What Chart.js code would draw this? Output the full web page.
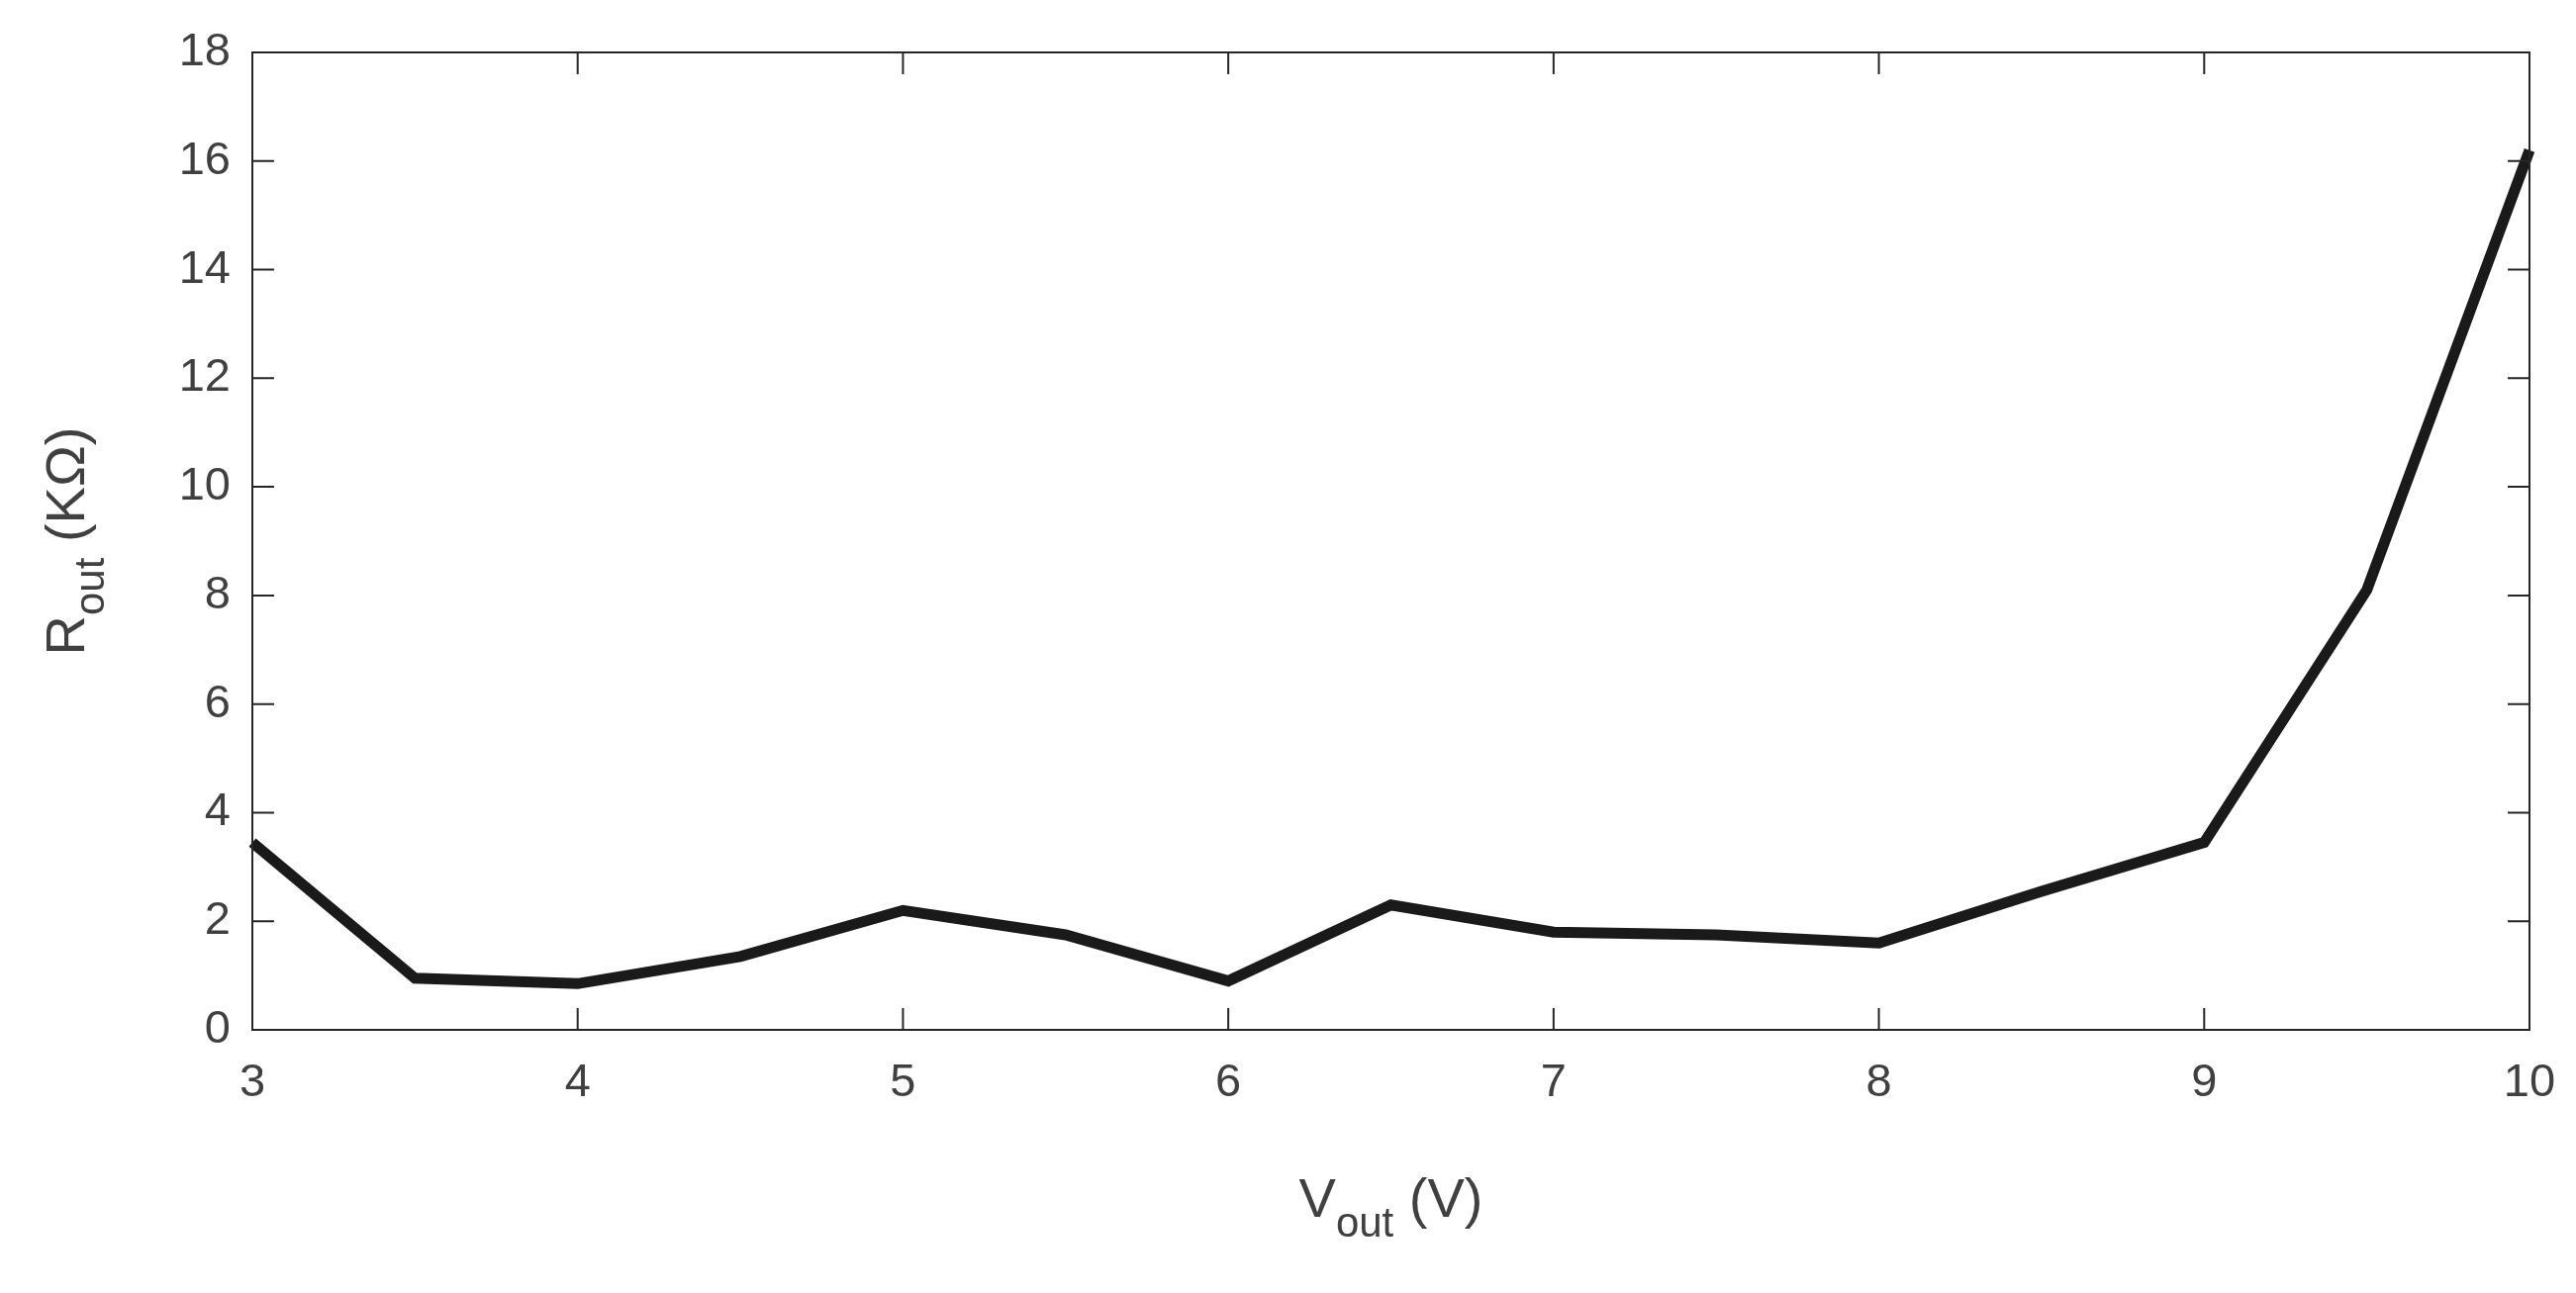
<!DOCTYPE html>
<html>
<head>
<meta charset="utf-8">
<script src="https://cdn.jsdelivr.net/npm/chart.js@4/dist/chart.umd.min.js"></script>
<style>
  html, body { margin: 0; padding: 0; background: #fff; }
  #wrap { width: 2603px; height: 1307px; }
</style>
</head>
<body>
<div id="wrap"><canvas id="chart"></canvas></div>
<script>
// Vout (V) vs Rout (KΩ)
const vout = [3, 3.5, 4, 4.5, 5, 5.5, 6, 6.5, 7, 7.5, 8, 8.5, 9, 9.5, 10];
const rout = [3.45, 0.95, 0.85, 1.35, 2.2, 1.75, 0.9, 2.3, 1.8, 1.75, 1.6, 2.55, 3.45, 8.1, 16.2];
const xTicks = [3, 4, 5, 6, 7, 8, 9, 10];
const yTicks = [0, 2, 4, 6, 8, 10, 12, 14, 16, 18];

const textColor = '#404040';
const fontFam = '"Liberation Sans", Arial, sans-serif';

// box + inward ticks + axis titles with subscripts
const frame = {
    id: 'frame',
    afterDraw(chart) {
        const { ctx, chartArea: a, scales } = chart;
        ctx.save();
        ctx.strokeStyle = '#262626';
        ctx.lineWidth = 2;
        ctx.strokeRect(a.left, a.top, a.right - a.left, a.bottom - a.top);
        const t = 22;
        ctx.beginPath();
        xTicks.forEach(v => {
            const x = scales.x.getPixelForValue(v);
            ctx.moveTo(x, a.bottom); ctx.lineTo(x, a.bottom - t);
            ctx.moveTo(x, a.top); ctx.lineTo(x, a.top + t);
        });
        yTicks.forEach(v => {
            const y = scales.y.getPixelForValue(v);
            ctx.moveTo(a.left, y); ctx.lineTo(a.left + t, y);
            ctx.moveTo(a.right, y); ctx.lineTo(a.right - t, y);
        });
        ctx.stroke();

        ctx.fillStyle = textColor;
        ctx.textBaseline = 'alphabetic';
        const big = '56px ' + fontFam, small = '42px ' + fontFam;
        // x title
        let cx = (a.left + a.right) / 2;
        let y0 = 1230;
        ctx.font = big; const w1 = ctx.measureText('V').width;
        ctx.font = small; const w2 = ctx.measureText('out').width;
        ctx.font = big; const w3 = ctx.measureText(' (V)').width;
        let x0 = cx - (w1 + w2 + w3) / 2;
        ctx.textAlign = 'left';
        ctx.font = big; ctx.fillText('V', x0, y0);
        ctx.font = small; ctx.fillText('out', x0 + w1, y0 + 20);
        ctx.font = big; ctx.fillText(' (V)', x0 + w1 + w2, y0);
        // y title
        ctx.translate(85, (a.top + a.bottom) / 2);
        ctx.rotate(-Math.PI / 2);
        ctx.font = big; const r1 = ctx.measureText('R').width;
        ctx.font = small; const r2 = ctx.measureText('out').width;
        ctx.font = big; const r3 = ctx.measureText(' (KΩ)').width;
        x0 = -(r1 + r2 + r3) / 2;
        ctx.font = big; ctx.fillText('R', x0, 0);
        ctx.font = small; ctx.fillText('out', x0 + r1, 20);
        ctx.font = big; ctx.fillText(' (KΩ)', x0 + r1 + r2, 0);
        ctx.restore();
    }
};

new Chart(document.getElementById('chart'), {
    type: 'line',
    data: {
        datasets: [{
            data: vout.map((v, i) => ({ x: v, y: rout[i] })),
            borderColor: '#1a1a1a',
            borderWidth: 11,
            pointRadius: 0,
            tension: 0,
            clip: false
        }]
    },
    options: {
        responsive: true,
        maintainAspectRatio: false,
        animation: false,
        layout: { padding: { top: 53, right: 47, left: 0, bottom: 0 } },
        plugins: { legend: { display: false }, tooltip: { enabled: false } },
        scales: {
            x: {
                type: 'linear', min: 3, max: 10,
                grid: { display: false },
                border: { display: false },
                afterBuildTicks: s => { s.ticks = xTicks.map(v => ({ value: v })); },
                afterFit: s => { s.height = 266; },
                ticks: { color: textColor, font: { size: 47, family: fontFam }, padding: 18 }
            },
            y: {
                min: 0, max: 18,
                grid: { display: false },
                border: { display: false },
                afterBuildTicks: s => { s.ticks = yTicks.map(v => ({ value: v })); },
                afterFit: s => { s.width = 255; },
                ticks: { color: textColor, font: { size: 47, family: fontFam }, padding: 14 }
            }
        }
    },
    plugins: [frame]
});
</script>
</body>
</html>
